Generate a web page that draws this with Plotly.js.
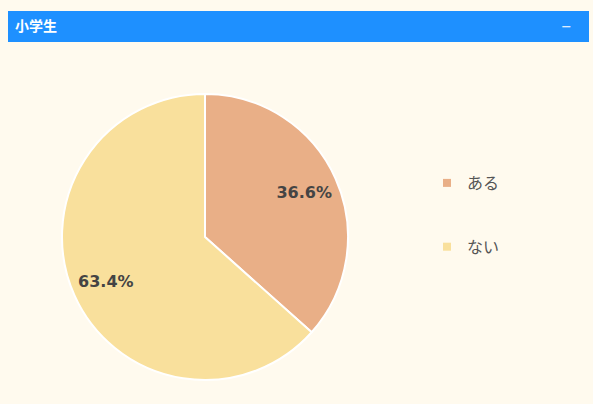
<!DOCTYPE html>
<html>
<head>
<meta charset="utf-8">
<script src="https://cdn.plot.ly/plotly-3.0.1.min.js"></script>
<style>html,body{margin:0;padding:0;background:#fffaee;}</style>
</head>
<body>
<div id="chart" style="width:593px;height:404px;"></div>
<script>
const panelTitle = "小学生";
const categories = ["ある", "ない"];
const values = [36.6, 63.4];
const colors = ["#e9af87", "#f9e09c"];

const W = 593, H = 404;
const px = v => v / W;
const py = v => 1 - v / H;
const pieDomain = {x: [px(62), px(348)], y: [py(380), py(94)]};

const traces = [{
  type: "pie",
  labels: categories,
  values: values,
  sort: false,
  direction: "clockwise",
  rotation: 0,
  marker: {colors: colors, line: {color: "#ffffff", width: 2}},
  textinfo: "none",
  domain: pieDomain,
  showlegend: false,
  hoverinfo: "label+percent"
}, {
  // transparent ring carrying the percentage labels further out
  type: "pie",
  labels: categories,
  values: values,
  sort: false,
  direction: "clockwise",
  rotation: 0,
  hole: 0.52,
  marker: {colors: ["rgba(0,0,0,0)", "rgba(0,0,0,0)"], line: {width: 0}},
  texttemplate: "%{percent:.1%}",
  textposition: "inside",
  insidetextorientation: "horizontal",
  textfont: {family: "DejaVu Sans", size: 16, color: "#444444", weight: "bold"},
  domain: pieDomain,
  showlegend: false,
  hoverinfo: "skip"
}];

categories.forEach((c, i) => {
  traces.push({
    type: "scatter",
    x: [null], y: [null],
    mode: "markers",
    name: c,
    legendgroup: "g" + i,
    marker: {symbol: "square", size: 8, color: colors[i]},
    hoverinfo: "skip",
    showlegend: true
  });
});

const layout = {
  width: W, height: H,
  margin: {l: 0, r: 0, t: 0, b: 0},
  paper_bgcolor: "#fffaee",
  plot_bgcolor: "rgba(0,0,0,0)",
  xaxis: {visible: false},
  yaxis: {visible: false},
  title: {
    text: panelTitle,
    font: {family: "Noto Sans CJK JP", size: 14, color: "#ffffff", weight: "bold"},
    xref: "container", yref: "container",
    x: px(15), xanchor: "left",
    y: py(26), yanchor: "middle"
  },
  shapes: [{
    type: "rect", xref: "paper", yref: "paper",
    x0: px(8), x1: px(589), y0: py(42), y1: py(11),
    fillcolor: "#1e90ff", line: {width: 0}, layer: "below"
  }],
  annotations: [{
    text: "−", xref: "paper", yref: "paper",
    x: px(566), y: py(26), xanchor: "center", yanchor: "middle",
    showarrow: false,
    font: {family: "DejaVu Sans", size: 13, color: "#ffffff"}
  }],
  legend: {
    x: px(427), xanchor: "left",
    y: py(166), yanchor: "top",
    traceorder: "grouped",
    tracegroupgap: 40,
    bgcolor: "rgba(0,0,0,0)",
    font: {family: "Noto Sans CJK JP", size: 16, color: "#555555"}
  },
  showlegend: true
};

Plotly.newPlot("chart", traces, layout, {displayModeBar: false, staticPlot: true});
</script>
</body>
</html>
